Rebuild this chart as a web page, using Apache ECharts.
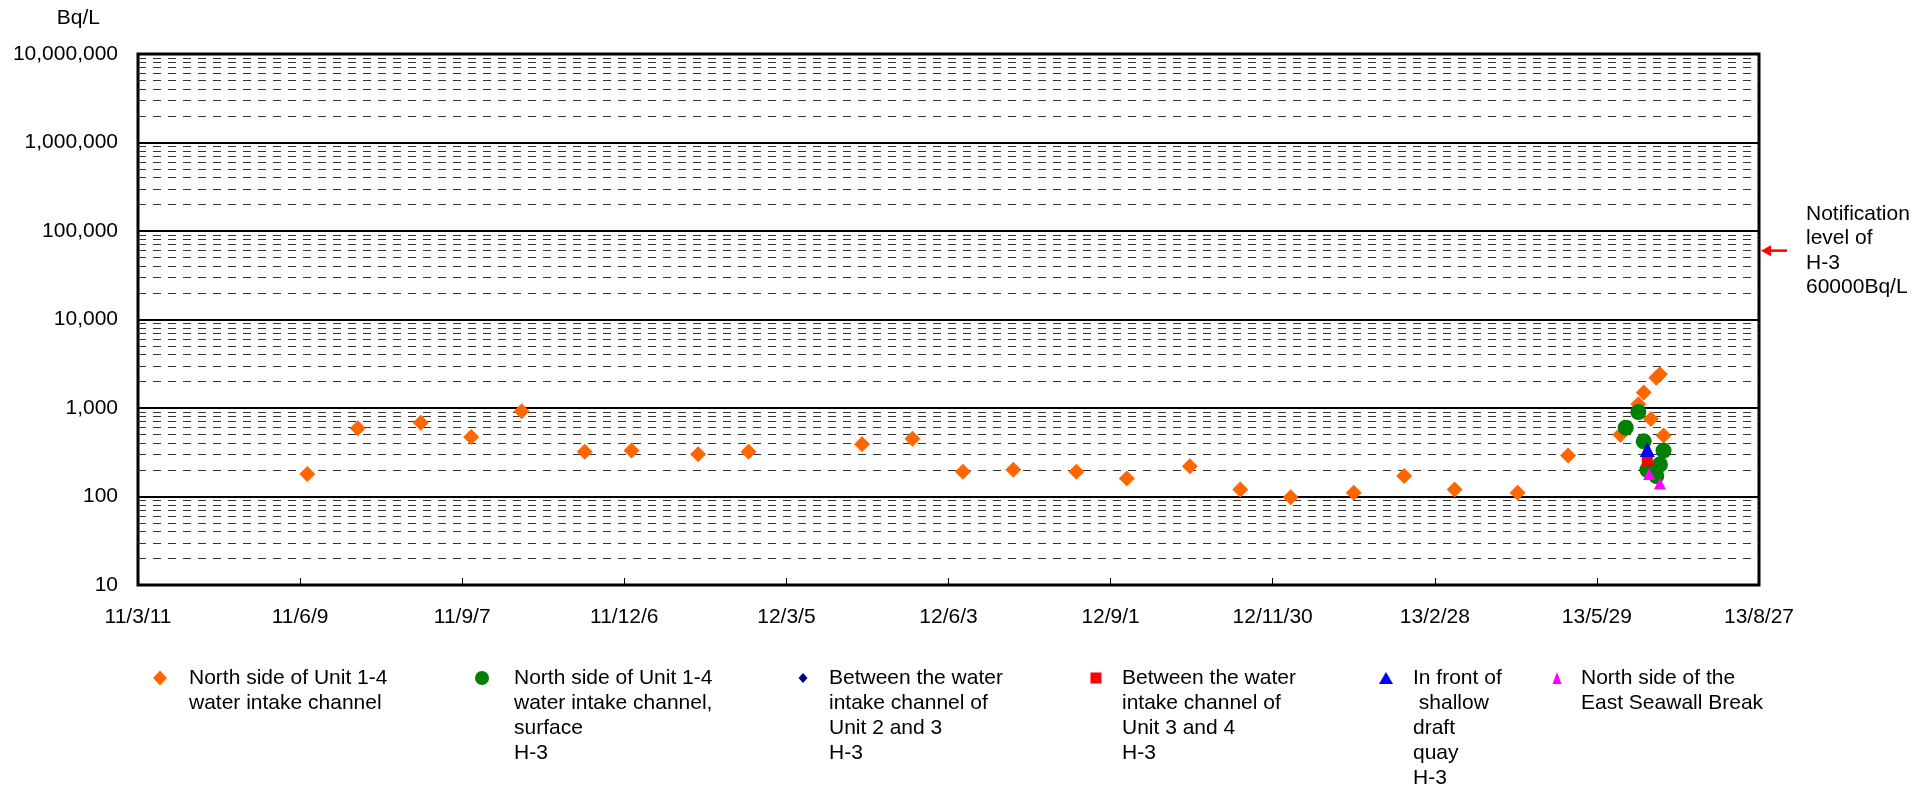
<!DOCTYPE html>
<html>
<head>
<meta charset="utf-8">
<title>H-3 concentration, north side of Unit 1-4 intake</title>
<script src="https://cdn.jsdelivr.net/npm/echarts@6/dist/echarts.min.js"></script>
<style>
  html, body { margin: 0; padding: 0; background: #ffffff; }
  #chart { width: 1930px; height: 788px; }
</style>
</head>
<body>
<div id="chart"></div>
<script>
// ---- Data -------------------------------------------------------------
// The horizontal axis counts days from this date; ticks every 90 days.
const axisStart = '2011-03-11';
const axisSpanDays = 900;
const tickStepDays = 90;
const xTickLabels = ['11/3/11', '11/6/9', '11/9/7', '11/12/6', '12/3/5', '12/6/3',
                     '12/9/1', '12/11/30', '13/2/28', '13/5/29', '13/8/27'];

const yMin = 10;
const yMax = 10000000;
const minorMultipliers = [2, 3, 4, 5, 6, 7, 8, 9];

// North side of Unit 1-4 water intake channel
const intakeNorthDates = [
  '2011-06-13', '2011-07-11', '2011-08-15', '2011-09-12', '2011-10-10', '2011-11-14',
  '2011-12-10', '2012-01-16', '2012-02-13', '2012-04-16', '2012-05-14', '2012-06-11',
  '2012-07-09', '2012-08-13', '2012-09-10', '2012-10-15', '2012-11-12', '2012-12-10',
  '2013-01-14', '2013-02-11', '2013-03-11', '2013-04-15', '2013-05-13', '2013-06-11',
  '2013-06-21', '2013-06-24', '2013-06-28', '2013-07-01', '2013-07-03', '2013-07-05'
];
const intakeNorthValues = [
  180, 590, 680, 470, 920, 320,
  330, 300, 320, 390, 450, 190,
  200, 190, 160, 220, 120, 98,
  110, 170, 120, 110, 290, 500,
  1100, 1500, 750, 2200, 2400, 490
];

// North side of Unit 1-4 water intake channel, surface
const intakeSurfaceDates = ['2013-06-14', '2013-06-21', '2013-06-24', '2013-06-26', '2013-07-01', '2013-07-03', '2013-07-05'];
const intakeSurfaceValues = [600, 900, 420, 200, 170, 230, 330];

// Between the water intake channel of Unit 2 and 3
const unit23Dates = [];
const unit23Values = [];

// Between the water intake channel of Unit 3 and 4
const unit34Dates = ['2013-06-26'];
const unit34Values = [250];

// In front of shallow draft quay
const quayDates = ['2013-06-26'];
const quayValues = [340];

// North side of the East Seawall Break
const seawallDates = ['2013-06-27', '2013-07-03'];
const seawallValues = [180, 140];

const notificationLevel = 60000;
const notificationLines = ['Notification', 'level of', 'H-3', notificationLevel + 'Bq/L'];

// ---- Helpers ----------------------------------------------------------
function dayOffset(dateStr) {
  const [y, m, d] = dateStr.split('-').map(Number);
  const [y0, m0, d0] = axisStart.split('-').map(Number);
  return (Date.UTC(y, m - 1, d) - Date.UTC(y0, m0 - 1, d0)) / 86400000;
}
function toPoints(dates, values) {
  return dates.map((dt, i) => [dayOffset(dt), values[i]]);
}

const FONT = "'Liberation Sans', Arial, Helvetica, sans-serif";
const FONT_SIZE = 21;

const seriesDefs = [
  { name: 'North side of Unit 1-4\nwater intake channel',
    dates: intakeNorthDates, values: intakeNorthValues,
    symbol: 'diamond', size: 16, color: '#ff6600' },
  { name: 'North side of Unit 1-4\nwater intake channel,\nsurface\nH-3',
    dates: intakeSurfaceDates, values: intakeSurfaceValues,
    symbol: 'circle', size: 16, color: '#008000' },
  { name: 'Between the water\nintake channel of\nUnit 2 and 3\nH-3',
    dates: unit23Dates, values: unit23Values,
    symbol: 'diamond', size: 10, color: '#000080' },
  { name: 'Between the water\nintake channel of\nUnit 3 and 4\nH-3',
    dates: unit34Dates, values: unit34Values,
    symbol: 'rect', size: [11, 10], color: '#ff0000' },
  { name: 'In front of\n shallow\ndraft\nquay\nH-3',
    dates: quayDates, values: quayValues,
    symbol: 'triangle', size: [15, 15], color: '#0000ff' },
  { name: 'North side of the\nEast Seawall Break',
    dates: seawallDates, values: seawallValues,
    symbol: 'triangle', size: 12, color: '#ff00ff' }
];

// Legend entry placement: icon centre, text start and icon box
const legendLayout = [
  { iconX: 160,  textX: 189,  w: 14, h: 15, icon: 'diamond' },
  { iconX: 482,  textX: 514,  w: 14, h: 14, icon: 'circle' },
  { iconX: 803,  textX: 829,  w: 9,  h: 10, icon: 'diamond' },
  { iconX: 1096, textX: 1122, w: 11, h: 11, icon: 'rect' },
  { iconX: 1386, textX: 1413, w: 14, h: 12, icon: 'triangle' },
  { iconX: 1557, textX: 1581, w: 9,  h: 12, icon: 'triangle' }
];
const legendIconY = 678;
const legendLineHeight = 25;

// ---- Chart ------------------------------------------------------------
const chart = echarts.init(document.getElementById('chart'), null, { renderer: 'canvas' });

const minorLineData = [];
for (let p = yMin; p < yMax; p *= 10) {
  minorMultipliers.forEach(k => minorLineData.push({ yAxis: k * p }));
}

const series = seriesDefs.map(s => ({
  name: s.name,
  type: 'scatter',
  symbol: s.symbol,
  symbolSize: s.size,
  itemStyle: { color: s.color, opacity: 1 },
  data: toPoints(s.dates, s.values),
  z: 3,
  animation: false
}));

// Dashed minor grid lines at 2..9 of every decade
series.unshift({
  name: 'minor-grid',
  type: 'scatter',
  data: [],
  silent: true,
  z: 1,
  markLine: {
    silent: true,
    z: 1,
    symbol: ['none', 'none'],
    label: { show: false },
    lineStyle: { type: [8, 7], color: '#333333', width: 1 },
    emphasis: { disabled: true },
    animation: false,
    data: minorLineData
  }
});

// Each legend entry keeps its icon level with the first text line:
// blank lines are prepended so the first line sits in the middle of the block.
const legends = seriesDefs.map((s, i) => {
  const lay = legendLayout[i];
  const lines = s.name.split('\n').length;
  return {
    data: [{ name: s.name, icon: lay.icon }],
    left: lay.iconX - lay.w / 2,
    top: legendIconY - (2 * lines - 1) * legendLineHeight / 2,
    padding: 0,
    itemWidth: lay.w,
    itemHeight: lay.h,
    selectedMode: false,
    formatter: name => '\n'.repeat(lines - 1) + name,
    textStyle: {
      fontFamily: FONT,
      fontSize: FONT_SIZE,
      color: '#000',
      lineHeight: legendLineHeight,
      padding: [0, 0, 0, lay.textX - (lay.iconX + lay.w / 2 + 5)]
    }
  };
});

chart.setOption({
  animation: false,
  backgroundColor: '#ffffff',
  textStyle: { fontFamily: FONT, color: '#000' },
  grid: {
    left: 138, right: 171, top: 54, bottom: 203,
    show: true, borderColor: '#000', borderWidth: 3, backgroundColor: 'transparent'
  },
  legend: legends,
  xAxis: {
    type: 'value',
    min: 0,
    max: axisSpanDays,
    interval: tickStepDays,
    axisLine: { show: false },
    axisTick: { show: true, inside: true, length: 7, lineStyle: { color: '#000', width: 1 } },
    splitLine: { show: false },
    axisLabel: {
      margin: 22,
      fontSize: FONT_SIZE,
      color: '#000',
      fontFamily: FONT,
      formatter: v => xTickLabels[Math.round(v / tickStepDays)] || ''
    }
  },
  yAxis: {
    type: 'log',
    logBase: 10,
    min: yMin,
    max: yMax,
    name: 'Bq/L',
    nameLocation: 'end',
    nameGap: 25,
    nameTextStyle: {
      fontFamily: FONT, fontSize: FONT_SIZE, color: '#000',
      align: 'right', verticalAlign: 'bottom', padding: [0, 38, 0, 0]
    },
    axisLine: { show: false },
    axisTick: { show: false },
    splitLine: { show: true, lineStyle: { color: '#000', width: 2, type: 'solid' } },
    axisLabel: {
      margin: 20,
      fontSize: FONT_SIZE,
      color: '#000',
      fontFamily: FONT,
      formatter: v => Math.round(v).toLocaleString('en-US')
    }
  },
  series: series
});

// Notification level marker to the right of the plot area
const arrowY = chart.convertToPixel({ yAxisIndex: 0 }, notificationLevel);
const rightX = chart.convertToPixel({ xAxisIndex: 0 }, axisSpanDays);
chart.setOption({
  graphic: [
    {
      type: 'line',
      shape: { x1: rightX + 10, y1: arrowY, x2: rightX + 28, y2: arrowY },
      style: { stroke: '#ff0000', lineWidth: 2.5 },
      silent: true
    },
    {
      type: 'polygon',
      shape: { points: [[rightX + 2, arrowY], [rightX + 12, arrowY - 5.5], [rightX + 12, arrowY + 5.5]] },
      style: { fill: '#ff0000' },
      silent: true
    },
    {
      type: 'text',
      x: rightX + 47,
      y: arrowY,
      style: {
        text: notificationLines.join('\n'),
        fontFamily: FONT,
        fontSize: FONT_SIZE,
        lineHeight: 24.5,
        fill: '#000',
        align: 'left',
        verticalAlign: 'middle'
      },
      silent: true
    }
  ]
});
</script>
</body>
</html>
